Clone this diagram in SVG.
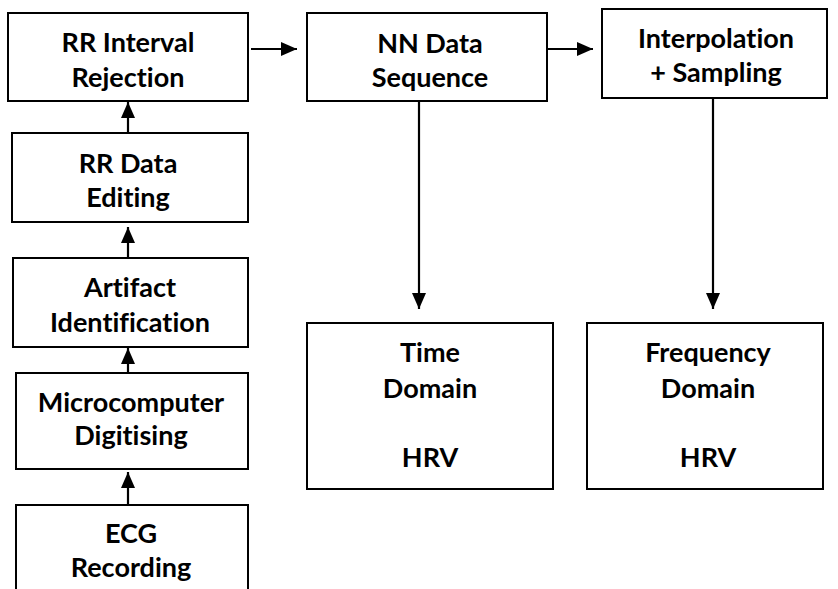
<svg xmlns="http://www.w3.org/2000/svg" width="838" height="589" viewBox="0 0 838 589">
<style>
.box{fill:#fff;stroke:#000;stroke-width:2}
.lbl{font-family:Lato,"Liberation Sans",sans-serif;font-weight:bold;font-size:27px;fill:#000;text-anchor:middle;font-variant-ligatures:none;font-feature-settings:"liga" 0,"clig" 0}
.conn{stroke:#000;stroke-width:2.2;fill:none;marker-end:url(#ah)}
</style>
<defs>
<marker id="ah" markerUnits="userSpaceOnUse" markerWidth="16" markerHeight="14" refX="16" refY="7" orient="auto" viewBox="0 0 16 14">
<path d="M0,0 L16,7 L0,14 Z" fill="#000"/>
</marker>
</defs>
<rect width="838" height="589" fill="#fff"/>
<g id="connectors">
<line class="conn" x1="128" y1="133" x2="128" y2="102"/>
<line class="conn" x1="128" y1="258" x2="128" y2="227"/>
<line class="conn" x1="128" y1="373" x2="128" y2="348"/>
<line class="conn" x1="128" y1="505" x2="128" y2="472"/>
<line class="conn" x1="251" y1="49" x2="297" y2="49"/>
<line class="conn" x1="547" y1="49" x2="593" y2="49"/>
<line class="conn" x1="419" y1="101" x2="419" y2="309"/>
<line class="conn" x1="713" y1="98" x2="713" y2="309"/>
</g>
<g id="rr-interval">
<rect class="box" x="8" y="13" width="240" height="88"/>
<text class="lbl" x="128" y="52">RR Interval</text>
<text class="lbl" x="128" y="87">Rejection</text>
</g>
<g id="rr-data">
<rect class="box" x="12" y="133" width="236" height="89"/>
<text class="lbl" x="128" y="173">RR Data</text>
<text class="lbl" x="128" y="207">Editing</text>
</g>
<g id="artifact">
<rect class="box" x="13" y="258" width="235" height="89"/>
<text class="lbl" x="130" y="297">Artifact</text>
<text class="lbl" x="130" y="332">Identification</text>
</g>
<g id="microcomputer">
<rect class="box" x="16" y="373" width="232" height="96"/>
<text class="lbl" x="131" y="412">Microcomputer</text>
<text class="lbl" x="131" y="445">Digitising</text>
</g>
<g id="ecg">
<rect class="box" x="16" y="505" width="232" height="100"/>
<text class="lbl" x="131" y="543">ECG</text>
<text class="lbl" x="131" y="577">Recording</text>
</g>
<g id="nn-data">
<rect class="box" x="307" y="13" width="240" height="88"/>
<text class="lbl" x="430" y="53">NN Data</text>
<text class="lbl" x="430" y="87">Sequence</text>
</g>
<g id="interpolation">
<rect class="box" x="602" y="9" width="225" height="89"/>
<text class="lbl" x="716" y="48">Interpolation</text>
<text class="lbl" x="716" y="82">+ Sampling</text>
</g>
<g id="time-domain">
<rect class="box" x="307" y="323" width="246" height="166"/>
<text class="lbl" x="430" y="362">Time</text>
<text class="lbl" x="430" y="398">Domain</text>
<text class="lbl" x="430" y="467">HRV</text>
</g>
<g id="frequency-domain">
<rect class="box" x="587" y="323" width="236" height="166"/>
<text class="lbl" x="708" y="362">Frequency</text>
<text class="lbl" x="708" y="398">Domain</text>
<text class="lbl" x="708" y="467">HRV</text>
</g>
</svg>
